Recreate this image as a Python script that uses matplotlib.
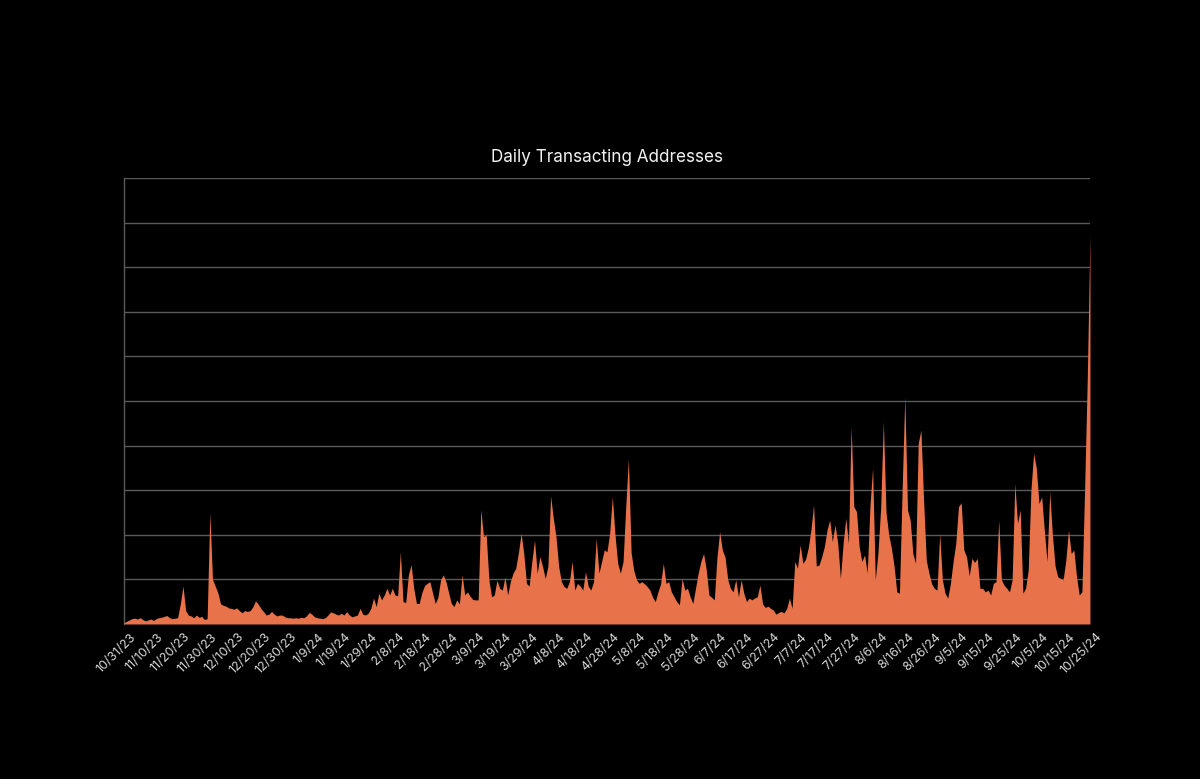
import matplotlib.pyplot as plt
import numpy as np
from datetime import date, timedelta
from matplotlib.transforms import ScaledTranslation

# 每日交易地址数（按图读数，单位 = 一条网格线）
start_date = date(2023, 10, 31)
daily_values = [
    # 10/31/23 - 11/9/23
    0.03, 0.06, 0.09, 0.12, 0.13, 0.11, 0.14, 0.10, 0.07, 0.09,
    0.11, 0.08, 0.12, 0.14, 0.15, 0.17, 0.19, 0.14, 0.12, 0.13,
    0.14, 0.45, 0.85, 0.30, 0.20, 0.18, 0.14, 0.20, 0.15, 0.17,
    0.10, 0.12, 2.50, 1.00, 0.85, 0.70, 0.45, 0.42, 0.40, 0.36,
    0.35, 0.33, 0.36, 0.30, 0.25, 0.30, 0.28, 0.30, 0.38, 0.52,
    0.45, 0.35, 0.28, 0.20, 0.22, 0.28, 0.22, 0.18, 0.20, 0.20,
    0.16, 0.14, 0.14, 0.13, 0.14, 0.13, 0.15, 0.14, 0.18, 0.26,
    0.22, 0.16, 0.14, 0.13, 0.12, 0.14, 0.20, 0.27, 0.25, 0.22,
    0.20, 0.24, 0.20, 0.28, 0.20, 0.16, 0.18, 0.20, 0.35, 0.22,
    0.20, 0.24, 0.35, 0.58, 0.39, 0.69, 0.54, 0.65, 0.80, 0.65,
    # 2/8/24 -
    0.80, 0.65, 0.63, 1.62, 0.50, 0.48, 1.10, 1.33, 0.80, 0.46,
    0.46, 0.70, 0.86, 0.91, 0.95, 0.70, 0.46, 0.60, 0.99, 1.10,
    0.95, 0.70, 0.46, 0.39, 0.54, 0.45, 1.10, 0.65, 0.72, 0.62,
    0.55, 0.54, 0.54, 2.56, 1.96, 2.00, 0.99, 0.61, 0.65, 0.98,
    0.80, 0.76, 1.05, 0.65, 0.95, 1.14, 1.25, 1.60, 2.03, 1.58,
    0.91, 0.85, 1.40, 1.88, 1.14, 1.51, 1.29, 1.02, 1.30, 2.87,
    2.37, 1.96, 1.29, 0.95, 0.84, 0.80, 0.95, 1.40, 0.76, 0.91,
    0.85, 0.76, 1.17, 0.85, 0.76, 0.95, 1.92, 1.14, 1.40, 1.66,
    1.62, 2.03, 2.85, 2.00, 1.36, 1.14, 1.40, 2.62, 3.71, 1.60,
    1.20, 0.99, 0.91, 0.95, 0.90, 0.84, 0.76, 0.60, 0.50, 0.72,
    # 5/18/24 -
    0.90, 1.36, 0.91, 0.95, 0.72, 0.61, 0.50, 0.43, 1.02, 0.76,
    0.80, 0.61, 0.46, 0.80, 1.14, 1.40, 1.58, 1.22, 0.65, 0.60,
    0.54, 1.50, 2.07, 1.66, 1.50, 1.00, 0.80, 0.72, 0.99, 0.61,
    0.99, 0.69, 0.50, 0.58, 0.54, 0.58, 0.61, 0.87, 0.45, 0.37,
    0.40, 0.35, 0.31, 0.22, 0.26, 0.28, 0.25, 0.35, 0.58, 0.35,
    1.40, 1.25, 1.77, 1.36, 1.45, 1.70, 2.10, 2.67, 1.30, 1.32,
    1.50, 1.73, 2.10, 2.33, 1.85, 2.22, 1.81, 1.02, 1.80, 2.37,
    1.81, 4.42, 2.63, 2.52, 1.73, 1.40, 1.55, 1.14, 2.63, 3.50,
    0.99, 1.60, 2.60, 4.54, 2.50, 2.00, 1.70, 1.30, 0.72, 0.69,
    3.00, 5.10, 2.56, 2.33, 1.58, 1.36, 4.05, 4.35, 2.78, 1.43,
    # 8/26/24 -
    1.14, 0.90, 0.80, 0.76, 2.03, 0.99, 0.69, 0.58, 0.91, 1.40,
    1.81, 2.63, 2.72, 1.66, 1.51, 1.08, 1.47, 1.38, 1.47, 0.80,
    0.80, 0.72, 0.76, 0.65, 0.91, 0.95, 2.33, 0.99, 0.87, 0.80,
    0.72, 0.99, 3.15, 2.26, 2.56, 0.69, 0.80, 1.21, 3.00, 3.83,
    3.50, 2.70, 2.85, 2.10, 1.40, 2.97, 2.00, 1.30, 1.06, 1.02,
    0.99, 1.43, 2.11, 1.58, 1.66, 1.06, 0.65, 0.72, 3.00, 5.50,
    8.72,
]

n_days = len(daily_values)
days = np.arange(n_days)
tick_days = np.arange(0, n_days, 10)
tick_labels = []
for d in tick_days:
    dt = start_date + timedelta(days=int(d))
    tick_labels.append(f"{dt.month}/{dt.day}/{dt.strftime('%y')}")

bg = '#000000'
fill_color = '#E8724A'
grid_color = '#5a5a5a'

fig = plt.figure(figsize=(12, 7.79), dpi=100, facecolor=bg)
ax = fig.add_axes([0.1033, 0.199, 0.805, 0.5725], facecolor=bg)

ax.fill_between(days, daily_values, 0, color=fill_color, linewidth=0, zorder=3)

ax.set_xlim(0, n_days - 1)
ax.set_ylim(0, 10)
ax.set_yticks(np.arange(0, 11, 1))
ax.set_yticklabels([])
ax.tick_params(axis='y', length=0)
ax.grid(axis='y', color=grid_color, linewidth=1.0, zorder=1)

ax.set_xticks(tick_days)
ax.set_xticklabels(tick_labels, rotation=45, ha='right', rotation_mode='anchor',
                   fontsize=9, color='#d8d8d8', family=['Inter', 'DejaVu Sans'])
ax.tick_params(axis='x', length=0, pad=5)
# 标签稍微右移，和原图对齐
offset = ScaledTranslation(6 / 100, 0, fig.dpi_scale_trans)
for lbl in ax.get_xticklabels():
    lbl.set_transform(lbl.get_transform() + offset)

for side in ['top', 'right', 'bottom']:
    ax.spines[side].set_visible(False)
ax.spines['left'].set_color(grid_color)
ax.spines['left'].set_linewidth(1.0)

fig.text(0.506, 0.798, 'Daily Transacting Addresses', ha='center', va='center',
         fontsize=12.3, color='#f2f2f2', family=['Inter', 'DejaVu Sans'])

plt.savefig('out.png', dpi=100, facecolor=bg)
plt.close(fig)
